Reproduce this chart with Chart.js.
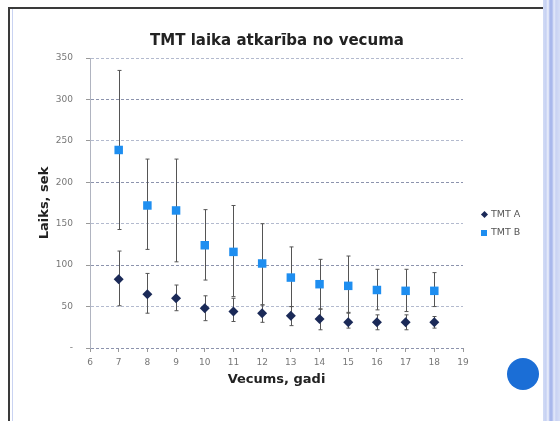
<!DOCTYPE html>
<html>
<head>
<meta charset="utf-8">
<script src="https://cdn.jsdelivr.net/npm/chart.js@4.4.1/dist/chart.umd.min.js"></script>
<style>
  html, body { margin:0; padding:0; background:#fff; }
  body { width:560px; height:421px; position:relative; overflow:hidden; font-family:"DejaVu Sans", sans-serif; }
  #wrap { position:absolute; left:0; top:0; width:560px; height:421px; }
  .title { position:absolute; left:77px; width:400px; top:31px; height:18px; line-height:18px; text-align:center; font-weight:bold; font-size:15px; color:#222; }
  .frame-top { position:absolute; left:8px; top:7px; width:540px; height:2px; background:#3a3a3a; }
  .frame-left { position:absolute; left:8px; top:7px; width:2px; height:414px; background:#3a3a3a; }
  .frame-left2 { position:absolute; left:12px; top:9px; width:1px; height:412px; background:#c9d3f2; }
  .frame-right { position:absolute; left:543px; top:0; width:17px; height:421px;
    background: linear-gradient(to right, #d3dcf5 0px, #c6d1f3 3px, #eef1fb 5px, #a9b8ec 7px, #a9b8ec 9px, #e6ebfa 11px, #c8d2f3 13px, #d6def6 17px); }
  .legend { position:absolute; left:481px; font-size:9.5px; color:#555; line-height:12px; }
  .legend span.mk { display:inline-block; vertical-align:middle; margin-right:4px; }
  .dot { position:absolute; left:507px; top:358px; width:32px; height:32px; border-radius:50%; background:#1b6ed6; }
</style>
</head>
<body>
<div id="wrap"><canvas id="c" width="560" height="421"></canvas></div>
<div class="title" id="title"></div>
<div class="frame-top"></div>
<div class="frame-left"></div>
<div class="frame-left2"></div>
<div class="frame-right"></div>
<div class="legend" style="top:208px"><span class="mk" style="width:5px;height:5px;background:#1b2a58;transform:rotate(45deg);margin-left:1px;"></span><span id="lgA"></span></div>
<div class="legend" style="top:226px"><span class="mk" style="width:6px;height:6px;background:#1e8ef0;"></span><span id="lgB"></span></div>
<div class="dot"></div>
<script>
const ages = [7, 8, 9, 10, 11, 12, 13, 14, 15, 16, 17, 18];
const tmtA = [83, 65, 60, 48, 44, 42, 39, 35, 31, 31, 31, 31];
const tmtAHigh = [117, 90, 76, 63, 60, 52, 50, 47, 43, 40, 40, 38];
const tmtALow = [51, 42, 45, 33, 32, 31, 27, 22, 24, 22, 22, 24];
const tmtB = [239, 172, 166, 124, 116, 102, 85, 77, 75, 70, 69, 69];
const tmtBHigh = [335, 228, 228, 167, 172, 150, 122, 107, 111, 95, 95, 91];
const tmtBLow = [143, 119, 104, 82, 62, 52, 50, 47, 42, 46, 44, 50];
const seriesNames = ['TMT A', 'TMT B'];
const titleText = 'TMT laika atkarība no vecuma';
const xTitle = 'Vecums, gadi';
const yTitle = 'Laiks, sek';

document.getElementById('title').textContent = titleText;
document.getElementById('lgA').textContent = seriesNames[0];
document.getElementById('lgB').textContent = seriesNames[1];

Chart.defaults.font.family = '"DejaVu Sans", sans-serif';

const errorBars = {
  id: 'errorBars',
  beforeDatasetsDraw(chart) {
    const {ctx, scales: {x, y}} = chart;
    const sets = [[tmtAHigh, tmtALow], [tmtBHigh, tmtBLow]];
    ctx.save();
    ctx.strokeStyle = '#555';
    ctx.lineWidth = 1;
    sets.forEach(([hi, lo]) => {
      ages.forEach((a, i) => {
        const px = Math.round(x.getPixelForValue(a)) + 0.5;
        const yh = y.getPixelForValue(hi[i]);
        const yl = y.getPixelForValue(lo[i]);
        ctx.beginPath();
        ctx.moveTo(px, yh); ctx.lineTo(px, yl);
        ctx.moveTo(px - 2, yh); ctx.lineTo(px + 2, yh);
        ctx.moveTo(px - 2, yl); ctx.lineTo(px + 2, yl);
        ctx.stroke();
      });
    });
    ctx.restore();
  }
};

new Chart(document.getElementById('c'), {
  type: 'scatter',
  data: {
    datasets: [
      {
        label: seriesNames[0],
        data: ages.map((a, i) => ({x: a, y: tmtA[i]})),
        pointStyle: 'rectRot',
        pointRadius: 5,
        backgroundColor: '#1b2a58',
        borderColor: '#1b2a58',
        borderWidth: 0
      },
      {
        label: seriesNames[1],
        data: ages.map((a, i) => ({x: a, y: tmtB[i]})),
        pointStyle: 'rect',
        pointRadius: 6,
        backgroundColor: '#1e8ef0',
        borderColor: '#1e8ef0',
        borderWidth: 0
      }
    ]
  },
  options: {
    responsive: false,
    animation: false,
    layout: { padding: { left: 0, right: 97, top: 58, bottom: 0 } },
    plugins: {
      legend: { display: false },
      tooltip: { enabled: false },
      title: { display: false }
    },
    scales: {
      x: {
        type: 'linear',
        min: 6, max: 19,
        afterFit(s) { s.height = 73; },
        ticks: { stepSize: 1, color: '#777', font: { size: 9 }, padding: 5 },
        grid: { drawOnChartArea: false, color: '#999', tickLength: 4 },
        border: { display: false },
        title: {
          display: true, text: xTitle, color: '#222',
          font: { size: 13, weight: 'bold', lineHeight: 1.2 },
          padding: { top: 0, bottom: 34 }
        }
      },
      y: {
        min: 0, max: 350,
        afterFit(s) { s.width = 90; },
        ticks: {
          stepSize: 50, color: '#777', font: { size: 9 }, padding: 13,
          callback: v => v === 0 ? '-' : v
        },
        grid: {
          color: ctx => (ctx.tick && ctx.tick.value % 100 === 0) ? '#8c93ad' : '#b3bace',
          tickLength: 4,
          tickColor: '#999'
        },
        border: { display: true, color: '#b0b4c0', dash: [3, 2] },
        title: {
          display: true, text: yTitle, color: '#222',
          font: { size: 13, weight: 'bold', lineHeight: 1.2 },
          padding: { top: 37, bottom: 0 }
        }
      }
    }
  },
  plugins: [errorBars]
});
</script>
</body>
</html>
